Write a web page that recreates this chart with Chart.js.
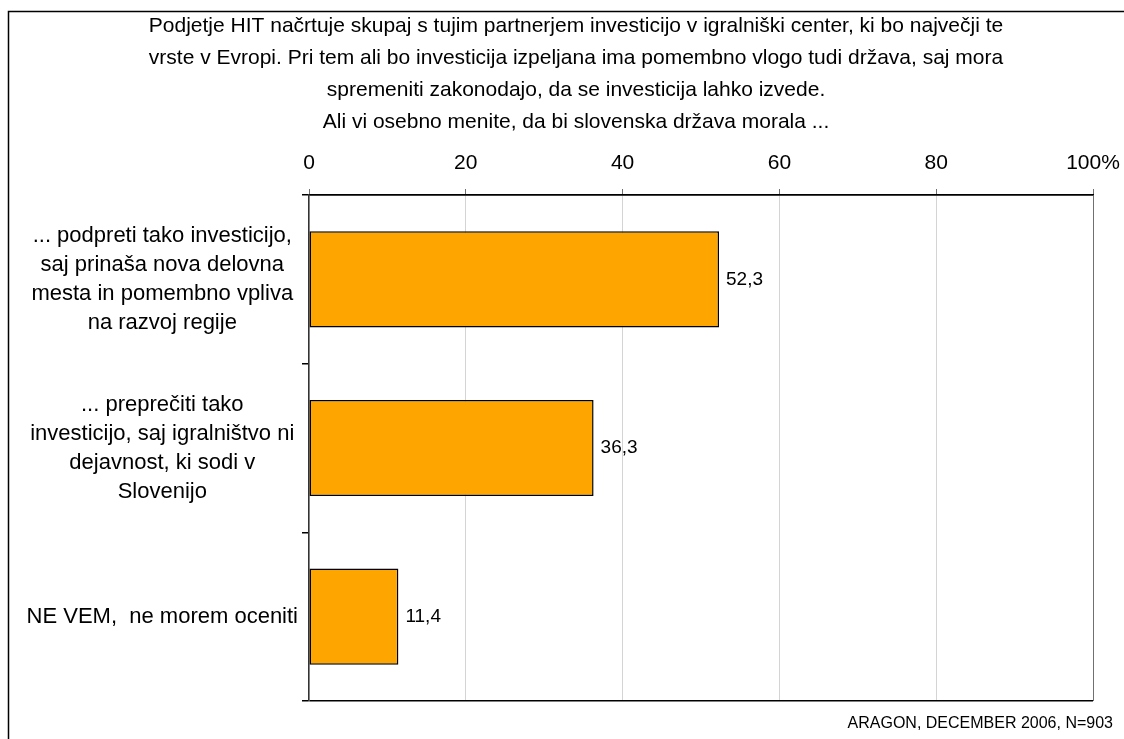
<!DOCTYPE html>
<html>
<head>
<meta charset="utf-8">
<script src="https://cdn.jsdelivr.net/npm/chart.js@4.4.0/dist/chart.umd.min.js"></script>
<style>
	html, body { margin:0; padding:0; background:#fff; }
	#chart-box { width:1124px; height:739px; position:relative; }
</style>
</head>
<body>
<div id="chart-box"><canvas id="myChart" width="1124" height="739"></canvas></div>
<script>
	// Title text
	let titleLines = [
		"Podjetje HIT načrtuje skupaj s tujim partnerjem investicijo v igralniški center, ki bo največji te",
		"vrste v Evropi. Pri tem ali bo investicija izpeljana ima pomembno vlogo tudi država, saj mora",
		"spremeniti zakonodajo, da se investicija lahko izvede.",
		"Ali vi osebno menite, da bi slovenska država morala ..."
	];

	// Categories
	let categories = [
		["... podpreti tako investicijo,", "saj prinaša nova delovna", "mesta in pomembno vpliva", "na razvoj regije"],
		["... preprečiti tako", "investicijo, saj igralništvo ni", "dejavnost, ki sodi v", "Slovenijo"],
		"NE VEM,  ne morem oceniti"
	];

	// Values (%)
	let values = [52.3, 36.3, 11.4];

	// Axis ticks
	let xTicks = [0, 20, 40, 60, 80, 100];

	let footnote = "ARAGON, DECEMBER 2006, N=903";

	let fontName = "'Liberation Sans', Arial, sans-serif";

	// frame, title, footnote, value labels
	let extras = {
		id: 'extras',
		beforeDraw(chart) {
			let c = chart.ctx;
			c.save();
			c.fillStyle = '#fff';
			c.fillRect(0, 0, chart.width, chart.height);
			c.strokeStyle = '#000';
			c.lineWidth = 1.5;
			c.beginPath();
			c.moveTo(8.5, chart.height + 2);
			c.lineTo(8.5, 11.5);
			c.lineTo(chart.width + 2, 11.5);
			c.stroke();
			c.restore();
		},
		afterDraw(chart) {
			let c = chart.ctx;
			c.save();
			c.fillStyle = '#000';
			c.font = "21px " + fontName;
			c.textAlign = 'center';
			c.textBaseline = 'middle';
			titleLines.forEach((t, i) => c.fillText(t, 576, 26 + i * 32));

			c.font = "19px " + fontName;
			c.textAlign = 'left';
			let meta = chart.getDatasetMeta(0);
			meta.data.forEach((bar, i) => {
				c.fillText(values[i].toFixed(1).replace('.', ','), bar.x + 7, bar.y);
			});

			c.font = "16px " + fontName;
			c.textAlign = 'right';
			c.fillText(footnote, 1113, 724);
			c.restore();
		}
	};

	let ctx = document.getElementById('myChart').getContext('2d');

	let chart = new Chart(ctx, {
		type: 'bar',
		data: {
			labels: categories,
			datasets: [{
				data: values,
				backgroundColor: '#FFA500',
				borderColor: '#000',
				borderWidth: 1.5,
				borderSkipped: false,
				barPercentage: 0.57,
				categoryPercentage: 1
			}]
		},
		options: {
			indexAxis: 'y',
			responsive: false,
			animation: false,
			layout: { padding: { left: 0, top: 0, right: 31, bottom: 38 } },
			plugins: {
				legend: { display: false },
				tooltip: { enabled: false }
			},
			scales: {
				x: {
					position: 'top',
					min: 0,
					max: 100,
					afterBuildTicks: (scale) => { scale.ticks = xTicks.map(v => ({ value: v })); },
					afterFit: (scale) => {
						scale.height = 195;
						scale.paddingLeft = 0;
						scale.paddingRight = 0;
					},
					ticks: {
						color: '#000',
						font: { size: 21, family: fontName },
						padding: 13,
						callback: (v) => v === 100 ? '100%' : v
					},
					grid: {
						color: (c) => c.tick && c.tick.value === 100 ? '#707070' : '#d4d4d4',
						tickColor: '#707070',
						tickLength: 6,
						lineWidth: 1
					},
					border: { color: '#000', width: 1.5 }
				},
				y: {
					offset: true,
					afterFit: (scale) => {
						scale.width = 309;
						scale.paddingTop = 0;
						scale.paddingBottom = 0;
					},
					ticks: {
						color: '#000',
						crossAlign: 'center',
						padding: 4,
						font: { size: 22, family: fontName, lineHeight: 1.32 }
					},
					grid: {
						offset: true,
						drawOnChartArea: true,
						color: (c) => (c.index === undefined || c.index === 0) ? '#000' : 'rgba(0,0,0,0)',
						tickColor: '#000',
						tickLength: 7,
						lineWidth: 1.5
					},
					border: { color: '#333', width: 1.5 }
				}
			}
		},
		plugins: [extras]
	});
</script>
</body>
</html>
